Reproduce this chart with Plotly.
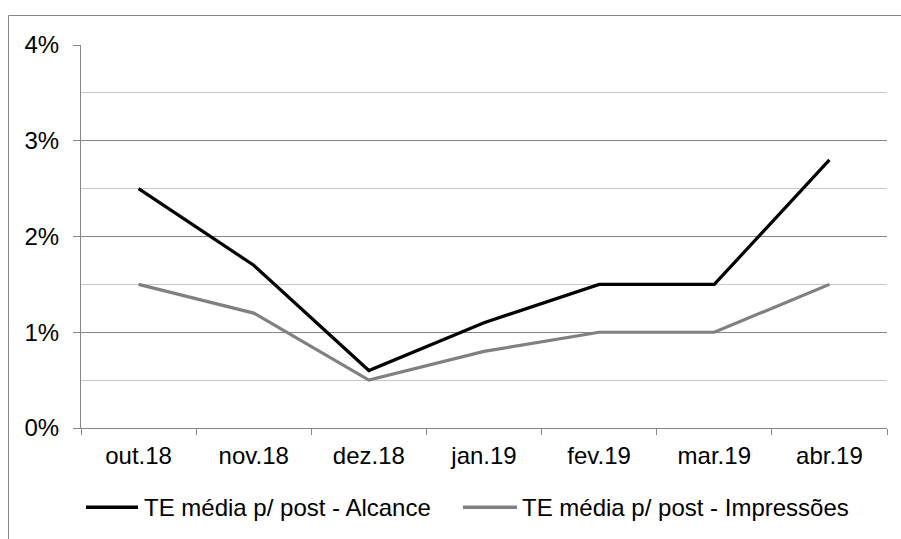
import plotly.graph_objects as go

categories = ["out.18", "nov.18", "dez.18", "jan.19", "fev.19", "mar.19", "abr.19"]
alcance = [0.025, 0.017, 0.006, 0.011, 0.015, 0.015, 0.028]
impressoes = [0.015, 0.012, 0.005, 0.008, 0.010, 0.010, 0.015]
series_names = ["TE média p/ post - Alcance", "TE média p/ post - Impressões"]
series_colors = ["#000000", "#808080"]

FONT = "Liberation Sans, Arial, sans-serif"
FS = 24

fig = go.Figure()
for name, vals, col in zip(series_names, [alcance, impressoes], series_colors):
    fig.add_trace(go.Scatter(x=categories, y=vals, mode="lines", name=name,
                             line=dict(color=col, width=3.2), showlegend=False))

L, R, T, B = 81, 14, 44.5, 111.3
W, H = 901, 539
pw = W - L - R
ph = H - T - B

def px(x):
    return (x - L) / pw

def py(y):
    return (H - B - y) / ph

# custom legend (sample line + label), matching the original layout
legend_y = 507
legend_items = [(86, 138, 142), (463, 517, 520)]
shapes = [
    dict(type="line", xref="paper", yref="paper", x0=px(8.5), x1=px(8.5), y0=py(15), y1=py(545),
         line=dict(color="#868686", width=1)),
    dict(type="line", xref="paper", yref="paper", x0=px(8.5), x1=px(905), y0=py(15), y1=py(15),
         line=dict(color="#868686", width=1)),
]
annotations = []
for (x0, x1, tx), name, col in zip(legend_items, series_names, series_colors):
    shapes.append(dict(type="line", xref="paper", yref="paper", x0=px(x0), x1=px(x1),
                       y0=py(legend_y), y1=py(legend_y), line=dict(color=col, width=3.5)))
    annotations.append(dict(text=name, xref="paper", yref="paper", x=px(tx), y=py(legend_y),
                            xanchor="left", yanchor="middle", showarrow=False,
                            font=dict(family=FONT, size=FS, color="#000000")))

fig.update_layout(
    width=W, height=H,
    margin=dict(l=L, r=R, t=T, b=B),
    paper_bgcolor="white", plot_bgcolor="white",
    font=dict(family=FONT, size=FS, color="#000000"),
    showlegend=False,
    xaxis=dict(
        type="category", range=[-0.5, 6.5], tickson="boundaries", ticks="outside",
        ticklen=6, tickcolor="#868686", tickwidth=1,
        showline=True, linecolor="#868686", linewidth=1,
        showgrid=False, ticklabelstandoff=6, fixedrange=True,
    ),
    yaxis=dict(
        range=[0, 0.04], dtick=0.01, tickformat=".0%", ticks="outside", ticklen=7,
        tickcolor="#868686", tickwidth=1,
        showline=True, linecolor="#868686", linewidth=1,
        showgrid=True, gridcolor="#868686", gridwidth=1,
        minor=dict(dtick=0.005, showgrid=True, gridcolor="#c8c8c8", gridwidth=1, ticks=""),
        zeroline=False, ticklabelstandoff=9, fixedrange=True,
    ),
    shapes=shapes,
    annotations=annotations,
)

fig.write_html("out.html")
